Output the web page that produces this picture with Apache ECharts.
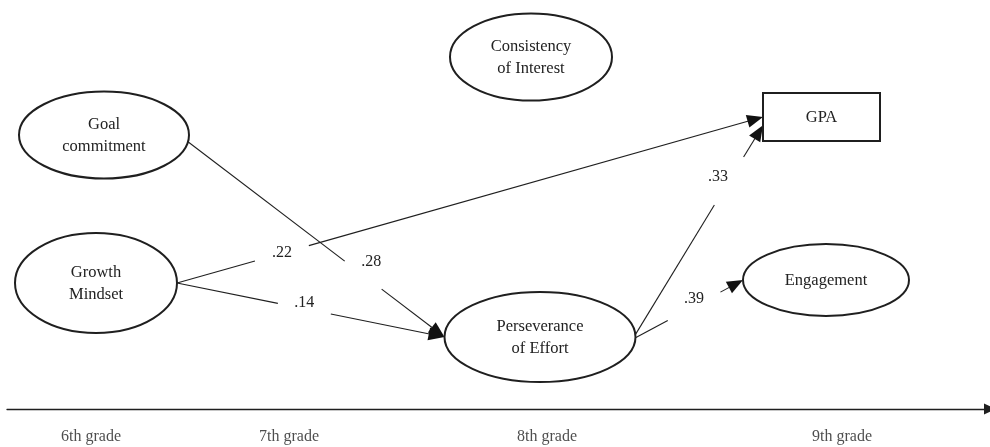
<!DOCTYPE html>
<html>
<head>
<meta charset="utf-8">
<script src="https://cdn.jsdelivr.net/npm/echarts@6/dist/echarts.min.js"></script>
<style>
  html, body { margin: 0; padding: 0; background: #fff; }
  #chart { width: 990px; height: 447px; }
</style>
</head>
<body>
<div id="chart"></div>
<script>
// constructs of the path model
const nodeNames = ['Goal\ncommitment', 'Growth\nMindset', 'Consistency\nof Interest', 'Perseverance\nof Effort', 'GPA', 'Engagement'];
const nodeKinds = ['latent', 'latent', 'latent', 'latent', 'observed', 'latent'];

// paths: source -> target, standardized coefficient
const pathFrom = [0, 1, 1, 3, 3];
const pathTo = [3, 4, 3, 4, 5];
const pathCoef = ['.28', '.22', '.14', '.33', '.39'];

// time line
const grades = ['6th grade', '7th grade', '8th grade', '9th grade'];

// ---- layout (pixel units of the hidden axes) ----
const nodeCenter = [[104, 135], [96, 283], [531, 57], [540, 337], [821.5, 117], [826, 280]];
const nodeHalf = [[85, 43.5], [81, 50], [81, 43.5], [95.5, 45], [58.5, 24], [83, 36]];
// angle (deg, y down) where a path leaves the source / enters the target
const pathOut = [9, 0, 0, -3, 1];
const pathIn = [180, 180, 180, 160, 180];
// gap in the line that holds the coefficient (fractions along the path)
const pathGap = [[0.611, 0.755], [0.133, 0.225], [0.377, 0.575], [0.619, 0.848], [0.30, 0.79]];
const labelShift = [[8, -13], [0, 0], [0, -6], [-11, -4], [0, -7]];
const gradeX = [91, 289, 547, 842];

const INK = '#1f1f1f';
const SERIF = '"Liberation Serif", "DejaVu Serif", serif';

function port(n, deg) {
  const c = nodeCenter[n], h = nodeHalf[n];
  const r = deg * Math.PI / 180;
  const cos = Math.cos(r), sin = Math.sin(r);
  if (nodeKinds[n] === 'observed') {
    return [c[0] + h[0] * Math.sign(cos), c[1] + h[1] * sin];
  }
  return [c[0] + h[0] * cos, c[1] + h[1] * sin];
}

function lerp(a, b, t) {
  return [a[0] + (b[0] - a[0]) * t, a[1] + (b[1] - a[1]) * t];
}

function renderNode(params, api) {
  const i = params.dataIndex;
  const c = api.coord(nodeCenter[i]);
  const h = nodeHalf[i];
  const shape = nodeKinds[i] === 'observed'
    ? { type: 'rect', shape: { x: c[0] - h[0], y: c[1] - h[1], width: h[0] * 2, height: h[1] * 2 } }
    : { type: 'ellipse', shape: { cx: c[0], cy: c[1], rx: h[0], ry: h[1] } };
  shape.style = { fill: '#fff', stroke: INK, lineWidth: 2 };
  return {
    type: 'group',
    children: [
      shape,
      {
        type: 'text',
        x: c[0], y: c[1] + 1,
        style: {
          text: nodeNames[i], font: '16.5px ' + SERIF, fill: '#222',
          align: 'center', verticalAlign: 'middle', lineHeight: 22
        }
      }
    ]
  };
}

function renderPath(params, api) {
  const i = params.dataIndex;
  const a = api.coord(port(pathFrom[i], pathOut[i]));
  const b = api.coord(port(pathTo[i], pathIn[i]));
  const g0 = lerp(a, b, pathGap[i][0]);
  const g1 = lerp(a, b, pathGap[i][1]);
  const mid = lerp(a, b, (pathGap[i][0] + pathGap[i][1]) / 2);
  const dx = b[0] - a[0], dy = b[1] - a[1];
  const len = Math.sqrt(dx * dx + dy * dy);
  const ux = dx / len, uy = dy / len;
  const headLen = 16, headW = 6.5;
  const base = [b[0] - ux * headLen, b[1] - uy * headLen];
  const lineStyle = { stroke: INK, lineWidth: 1.1 };
  return {
    type: 'group',
    children: [
      { type: 'line', shape: { x1: a[0], y1: a[1], x2: g0[0], y2: g0[1] }, style: lineStyle },
      { type: 'line', shape: { x1: g1[0], y1: g1[1], x2: base[0] + ux * 2, y2: base[1] + uy * 2 }, style: lineStyle },
      {
        type: 'polygon',
        shape: { points: [b, [base[0] - uy * headW, base[1] + ux * headW], [base[0] + uy * headW, base[1] - ux * headW]] },
        style: { fill: '#111' }
      },
      {
        type: 'text',
        x: mid[0] + labelShift[i][0], y: mid[1] + labelShift[i][1],
        style: { text: pathCoef[i], font: '16px ' + SERIF, fill: '#222', align: 'center', verticalAlign: 'middle' }
      }
    ]
  };
}

const chart = echarts.init(document.getElementById('chart'));

const option = {
  backgroundColor: '#fff',
  animation: false,
  grid: [
    { left: 0, right: 0, top: 0, bottom: 0 },
    { left: 7, right: -9, top: 0, bottom: 38 }
  ],
  xAxis: [
    { gridIndex: 0, type: 'value', min: 0, max: 990, show: false },
    {
      gridIndex: 1, type: 'value', min: 0, max: 1,
      axisLine: {
        show: true, onZero: false,
        symbol: ['none', 'triangle'], symbolSize: [11, 12],
        lineStyle: { color: INK, width: 1.3 }
      },
      axisTick: { show: false },
      axisLabel: { show: false },
      splitLine: { show: false }
    }
  ],
  yAxis: [
    { gridIndex: 0, type: 'value', min: 0, max: 447, inverse: true, show: false },
    { gridIndex: 1, type: 'value', min: 0, max: 1, show: false }
  ],
  series: [
    {
      type: 'custom',
      name: 'paths',
      xAxisIndex: 0, yAxisIndex: 0,
      clip: false,
      renderItem: renderPath,
      data: pathCoef.map((c, i) => [i, 0]),
      z: 2
    },
    {
      type: 'custom',
      name: 'constructs',
      xAxisIndex: 0, yAxisIndex: 0,
      clip: false,
      renderItem: renderNode,
      data: nodeNames.map((n, i) => [i, 0]),
      z: 3
    },
    {
      type: 'scatter',
      name: 'grades',
      xAxisIndex: 0, yAxisIndex: 0,
      symbolSize: 0,
      data: grades.map((g, i) => [gradeX[i], 437]),
      label: {
        show: true, position: 'inside',
        formatter: (p) => grades[p.dataIndex],
        color: '#222', fontSize: 16, fontFamily: SERIF
      },
      silent: true
    }
  ]
};

chart.setOption(option);

window.addEventListener('resize', () => {
  chart && chart.resize()
})
</script>
</body>
</html>
